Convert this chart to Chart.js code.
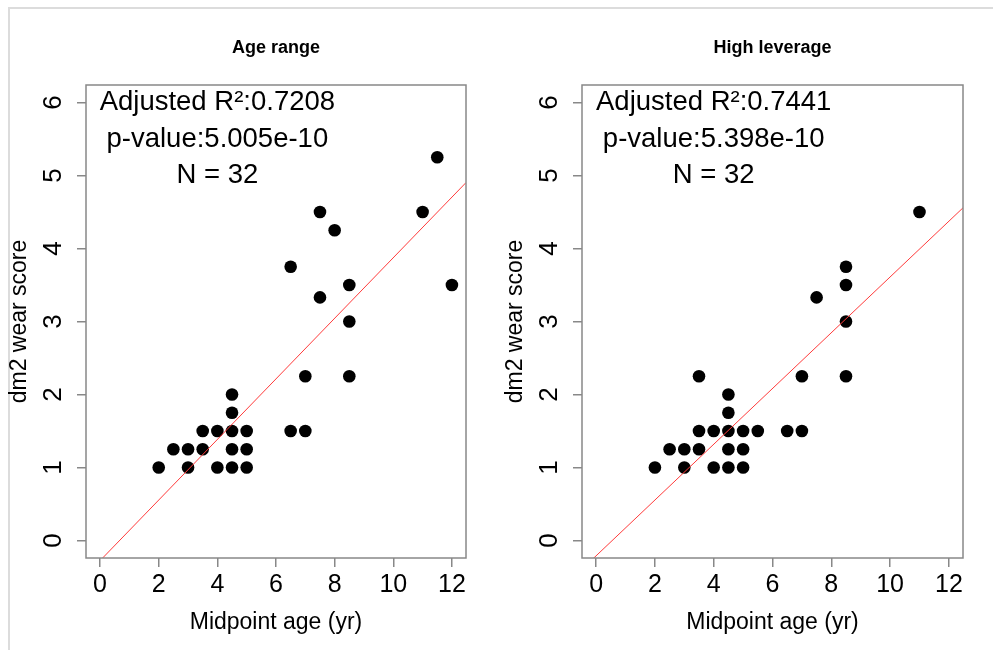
<!DOCTYPE html>
<html>
<head>
<meta charset="utf-8">
<script src="https://cdn.jsdelivr.net/npm/chart.js@4.4.0/dist/chart.umd.min.js"></script>
<style>
body{margin:0;background:#fff;width:993px;height:650px;overflow:hidden;position:relative}
#frame{position:absolute;left:8px;top:7px;width:990px;height:700px;border-top:2px solid #dcdcdc;border-left:2px solid #dcdcdc}
canvas{position:absolute;top:0}
#left{left:0}
#right{left:496px}
</style>
</head>
<body>
<div id="frame"></div>
<canvas id="left" width="496" height="650"></canvas>
<canvas id="right" width="497" height="650"></canvas>
<script>
// ===== Data =====

const xTicks = [0, 2, 4, 6, 8, 10, 12];
const yTicks = [0, 1, 2, 3, 4, 5, 6];
const xLim = [-0.48, 12.48];
const yLim = [-0.24, 6.24];

// Age range panel
const ageX = [2, 3, 4, 4.5, 5, 2.5, 3, 3.5, 4.5, 5, 3.5, 4, 4.5, 5, 6.5, 7, 4.5, 4.5, 7, 8.5, 11.5, 7.5, 8, 11, 6.5, 8.5, 12, 7.5, 8.5];
const ageY = [1, 1, 1, 1, 1, 1.25, 1.25, 1.25, 1.25, 1.25, 1.5, 1.5, 1.5, 1.5, 1.5, 1.5, 1.75, 2, 2.25, 2.25, 5.25, 4.5, 4.25, 4.5, 3.75, 3.5, 3.5, 3.33, 3];
const ageFit = [-0.276, 0.415]; // intercept, slope
const ageStats = ["Adjusted R\u00b2:0.7208", "p-value:5.005e-10", "N = 32"];

// High leverage panel
const levX = [2, 3, 4, 4.5, 5, 2.5, 3, 3.5, 4.5, 5, 3.5, 4, 4.5, 5, 5.5, 6.5, 7, 4.5, 4.5, 3.5, 7, 8.5, 11, 8.5, 8.5, 7.5, 8.5];
const levY = [1, 1, 1, 1, 1, 1.25, 1.25, 1.25, 1.25, 1.25, 1.5, 1.5, 1.5, 1.5, 1.5, 1.5, 1.5, 1.75, 2, 2.25, 2.25, 2.25, 4.5, 3.75, 3.5, 3.33, 3];
const levFit = [-0.21, 0.382];
const levStats = ["Adjusted R\u00b2:0.7441", "p-value:5.398e-10", "N = 32"];

// where the stat text sits (data units)
const statX = 4;
const statY = [6, 5.5, 5];

const FONT = '"Liberation Sans", Arial, sans-serif';
Chart.defaults.font.family = FONT;
Chart.defaults.color = "#000";


// ===== Box, rotated y labels, stat text =====

const rPlot = {

    id: "rPlot",

    afterDraw(chart) {

        const ctx = chart.ctx;
        const a = chart.chartArea;
        const xs = chart.scales.x;
        const ys = chart.scales.y;

        ctx.save();

        ctx.strokeStyle = "#888";
        ctx.lineWidth = 1.5;
        ctx.strokeRect(a.left, a.top, a.right - a.left, a.bottom - a.top);

        ctx.fillStyle = "#000";
        ctx.font = "26px " + FONT;
        ctx.textAlign = "center";
        ctx.textBaseline = "middle";

        ys.ticks.forEach(t => {
            ctx.save();
            ctx.translate(54, ys.getPixelForValue(t.value));
            ctx.rotate(-Math.PI / 2);
            ctx.fillText(String(t.value), 0, 0);
            ctx.restore();
        });

        ctx.font = "27.5px " + FONT;
        chart.options.plugins.rPlot.lines.forEach((txt, i) => {
            ctx.fillText(txt, xs.getPixelForValue(statX), ys.getPixelForValue(statY[i]));
        });

        ctx.restore();

    }

};


function makeChart(id, title, xv, yv, fit, stats) {

    const pts = xv.map((x, i) => ({ x: x, y: yv[i] }));
    const line = xLim.map(x => ({ x: x, y: fit[0] + fit[1] * x }));

    const tickGrid = {
        display: true,
        drawOnChartArea: false,
        drawTicks: true,
        tickLength: 9,
        color: "#888",
        lineWidth: 1.5
    };

    return new Chart(document.getElementById(id), {

        type: "scatter",

        data: {
            datasets: [{
                data: line,
                showLine: true,
                borderColor: "#ff3b3b",
                borderWidth: 1,
                pointRadius: 0
            }, {
                data: pts,
                backgroundColor: "#000",
                borderWidth: 0,
                pointRadius: 6.3
            }]
        },

        options: {
            responsive: false,
            animation: false,
            devicePixelRatio: 1,
            layout: { padding: { left: 0, right: 30, top: 0, bottom: 0 } },
            plugins: {
                legend: { display: false },
                tooltip: { enabled: false },
                title: {
                    display: true,
                    text: title,
                    fullSize: false,
                    color: "#000",
                    font: { size: 18, weight: "bold" },
                    padding: { top: 37, bottom: 26.4 }
                },
                rPlot: { lines: stats }
            },
            scales: {
                x: {
                    type: "linear",
                    min: xLim[0],
                    max: xLim[1],
                    afterBuildTicks: s => { s.ticks = xTicks.map(v => ({ value: v })); },
                    afterFit: s => { s.height = 92; },
                    grid: tickGrid,
                    border: { display: false },
                    ticks: { color: "#000", font: { size: 25 }, padding: 3, maxRotation: 0, autoSkip: false },
                    title: { display: true, text: "Midpoint age (yr)", color: "#000", font: { size: 23 }, padding: { top: 0, bottom: 14 } }
                },
                y: {
                    type: "linear",
                    min: yLim[0],
                    max: yLim[1],
                    afterBuildTicks: s => { s.ticks = yTicks.map(v => ({ value: v })); },
                    afterFit: s => { s.width = 86; },
                    grid: tickGrid,
                    border: { display: false },
                    ticks: { display: false },
                    title: { display: true, text: "dm2 wear score", color: "#000", font: { size: 23 }, padding: { top: 6, bottom: 0 } }
                }
            }
        },

        plugins: [rPlot]

    });

}

makeChart("left", "Age range", ageX, ageY, ageFit, ageStats);
makeChart("right", "High leverage", levX, levY, levFit, levStats);
</script>
</body>
</html>
